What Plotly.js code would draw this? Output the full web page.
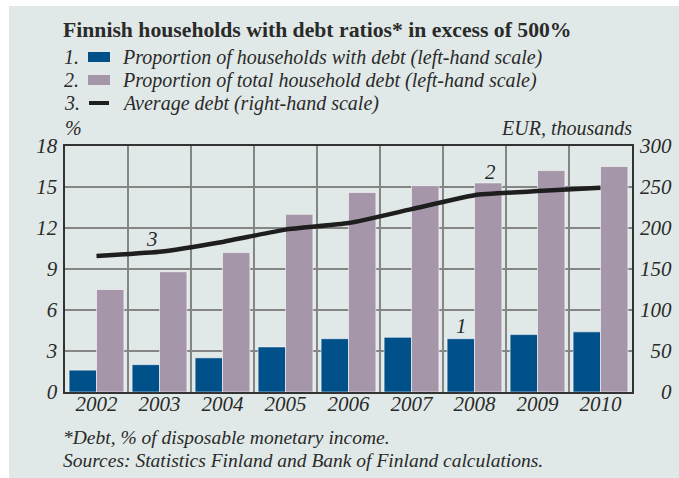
<!DOCTYPE html>
<html><head><meta charset="utf-8">
<script src="https://cdn.plot.ly/plotly-3.0.1.min.js"></script>
<style>html,body{margin:0;padding:0;background:#fff;}#chart{position:absolute;left:9px;top:6px;width:670px;height:472px;}</style>
</head><body><div id="chart"></div>
<script>
const years = ['2002','2003','2004','2005','2006','2007','2008','2009','2010'];
const householdsWithDebt = [1.6, 2.0, 2.5, 3.3, 3.9, 4.0, 3.9, 4.2, 4.4];
const shareOfTotalDebt = [7.5, 8.8, 10.2, 13.0, 14.6, 15.1, 15.3, 16.2, 16.5];
const averageDebt = [166, 171, 183, 198, 206, 223, 240, 245, 249];
const leftTicks = [0, 3, 6, 9, 12, 15, 18];
const rightTicks = [0, 50, 100, 150, 200, 250, 300];

const BG = '#e0e9e7', BLUE = '#00508a', PURPLE = '#a597a9', INK = '#2a2a2a';
const FONT = 'Liberation Serif, Times New Roman, serif';
const TICK = 21;

// plot area geometry (for placing text in paper units)
const L = 56, T = 140, W = 567, H = 246;
const px = x => (x - 9 - L) / W;
const py = y => (T + H - (y - 6)) / H;

const pad = s => '\u2007'.repeat(3 - s.length) + s;

const traces = [
  {type:'bar', x: years, y: householdsWithDebt, name:'1', marker:{color:BLUE, line:{color:'rgba(255,255,255,0.55)', width:1}}, hoverinfo:'skip'},
  {type:'bar', x: years, y: shareOfTotalDebt, name:'2', marker:{color:PURPLE, line:{color:'rgba(255,255,255,0.55)', width:1}}, hoverinfo:'skip'},
  {type:'scatter', mode:'lines', x: years, y: averageDebt, yaxis:'y2', name:'3', line:{color:'#1e1e1e', width:4.5, shape:'spline', smoothing:0.5}, hoverinfo:'skip'}
];

const ann = (text, x, y, opts={}) => Object.assign({text, x: px(x), y: py(y), xref:'paper', yref:'paper', showarrow:false, xanchor:'left', yanchor:'middle', font:{family:FONT, size:20, color:INK, style:'italic'}}, opts);
const lbl = (text, year, y, xshift) => ({text, x: years.indexOf(year), y, xshift, xref:'x', yref:'y', showarrow:false, font:{family:FONT, size:TICK, color:INK, style:'italic'}});

const annotations = [
  ann('<b>Finnish households with debt ratios* in excess of 500%</b>', 61, 30, {font:{family:FONT, size:21.7, color:INK}}),
  ann('1.', 62, 57), ann('Proportion of households with debt (left-hand scale)', 120, 57),
  ann('2.', 62, 80), ann('Proportion of total household debt (left-hand scale)', 120, 80),
  ann('3.', 62, 103), ann('Average debt (right-hand scale)', 120, 103),
  ann('%', 63, 128),
  ann('EUR, thousands', 634, 128, {xanchor:'right'}),
  ann('*Debt, % of disposable monetary income.', 61, 437, {font:{family:FONT, size:19.5, color:INK, style:'italic'}}),
  ann('Sources: Statistics Finland and Bank of Finland calculations.', 61, 460, {font:{family:FONT, size:19.5, color:INK, style:'italic'}}),
  lbl('3', '2003', 11.2, -8),
  lbl('2', '2008', 16.1, 16),
  lbl('1', '2008', 4.8, -13)
];

const shapes = [
  {type:'rect', xref:'paper', yref:'paper', x0:px(88), x1:px(110), y0:py(52), y1:py(62), fillcolor:BLUE, line:{width:0}},
  {type:'rect', xref:'paper', yref:'paper', x0:px(88), x1:px(110), y0:py(75), y1:py(85), fillcolor:PURPLE, line:{width:0}},
  {type:'line', xref:'paper', yref:'paper', x0:px(89), x1:px(109), y0:py(103), y1:py(103), line:{color:'#1e1e1e', width:4}}
];

const layout = {
  width:670, height:472,
  margin:{l:L, r:47, t:T, b:86},
  paper_bgcolor: BG, plot_bgcolor: BG,
  showlegend:false,
  barmode:'group', bargap:0.13, bargroupgap:0,
  font:{family:FONT, color:INK},
  xaxis:{type:'category', tickson:'boundaries', showgrid:true, gridcolor:'#858585', gridwidth:1.4,
         showline:true, linecolor:'#333', linewidth:1.6, mirror:true, ticks:'', tickangle:0,
         tickfont:{family:FONT, size:TICK, color:INK, style:'italic'}, ticklabelstandoff:-8},
  yaxis:{range:[0,18], tickvals:leftTicks, ticktext:leftTicks.map(String), showgrid:true, gridcolor:'#858585', gridwidth:1.4,
         showline:true, linecolor:'#333', linewidth:1.6, mirror:true, ticks:'', zeroline:false,
         tickfont:{family:FONT, size:TICK, color:INK, style:'italic'}, ticklabelstandoff:2},
  yaxis2:{range:[0,300], overlaying:'y', side:'right', tickvals:rightTicks, ticktext:rightTicks.map(v=>pad(String(v))),
          showgrid:false, zeroline:false, showline:false, ticks:'',
          tickfont:{family:FONT, size:TICK, color:INK, style:'italic'}, ticklabelstandoff:7},
  annotations, shapes
};

Plotly.newPlot('chart', traces, layout, {displayModeBar:false, staticPlot:true});
</script></body></html>
